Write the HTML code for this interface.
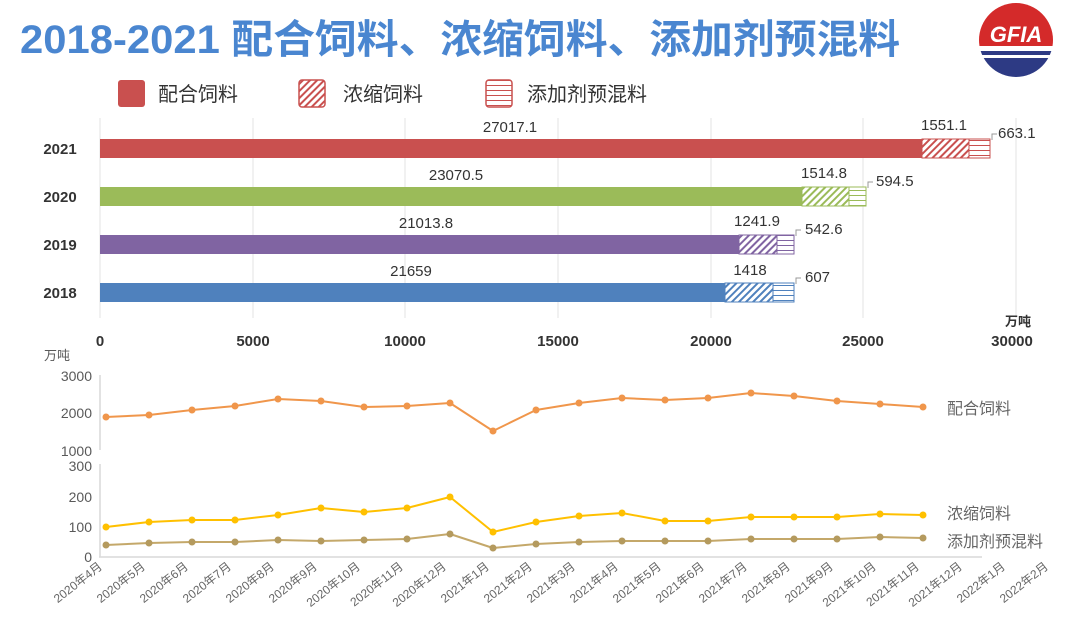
<!DOCTYPE html>
<html><head><meta charset="utf-8"><style>
body{margin:0;background:#fff;}
svg{display:block;font-family:"Liberation Sans","Noto Sans CJK SC",sans-serif;}
</style></head><body>
<svg width="1080" height="622" viewBox="0 0 1080 622" xmlns="http://www.w3.org/2000/svg">
<defs>
<pattern id="dr" width="5" height="5" patternUnits="userSpaceOnUse" patternTransform="rotate(45)"><rect width="5" height="5" fill="#fff"/><rect width="2" height="5" fill="#c9504f"/></pattern>
<pattern id="dg" width="5" height="5" patternUnits="userSpaceOnUse" patternTransform="rotate(45)"><rect width="5" height="5" fill="#fff"/><rect width="2" height="5" fill="#9bbb59"/></pattern>
<pattern id="dp" width="5" height="5" patternUnits="userSpaceOnUse" patternTransform="rotate(45)"><rect width="5" height="5" fill="#fff"/><rect width="2" height="5" fill="#8064a2"/></pattern>
<pattern id="db" width="5" height="5" patternUnits="userSpaceOnUse" patternTransform="rotate(45)"><rect width="5" height="5" fill="#fff"/><rect width="2" height="5" fill="#4f81bd"/></pattern>
<pattern id="hr" width="5" height="5" patternUnits="userSpaceOnUse"><rect width="5" height="5" fill="#fff"/><rect width="5" height="1" fill="#c9504f"/></pattern>
<pattern id="hg" width="5" height="5" patternUnits="userSpaceOnUse"><rect width="5" height="5" fill="#fff"/><rect width="5" height="1" fill="#9bbb59"/></pattern>
<pattern id="hp" width="5" height="5" patternUnits="userSpaceOnUse"><rect width="5" height="5" fill="#fff"/><rect width="5" height="1" fill="#8064a2"/></pattern>
<pattern id="hb" width="5" height="5" patternUnits="userSpaceOnUse"><rect width="5" height="5" fill="#fff"/><rect width="5" height="1" fill="#4f81bd"/></pattern>
<clipPath id="top"><rect x="970" y="0" width="100" height="46"/></clipPath>
<clipPath id="bot"><rect x="970" y="46" width="100" height="50"/></clipPath>
</defs>

<!-- Title -->
<text x="20" y="53" font-size="40" font-weight="bold" fill="#4a86d0" textLength="880" lengthAdjust="spacingAndGlyphs">2018-2021 配合饲料、浓缩饲料、添加剂预混料</text>

<!-- Logo -->
<circle cx="1016" cy="40" r="37" fill="#d42a2a" clip-path="url(#top)"/>
<circle cx="1016" cy="40" r="37" fill="#2d3a84" clip-path="url(#bot)"/>
<rect x="976" y="46" width="82" height="5" fill="#fff"/>
<rect x="976" y="55" width="82" height="3" fill="#fff"/>
<text x="1016" y="42" font-size="22" font-weight="bold" fill="#fff" text-anchor="middle" font-style="italic">GFIA</text>

<!-- Legend -->
<rect x="118" y="80" width="27" height="27" rx="3" fill="#c9504f"/>
<text x="158" y="101" font-size="20" fill="#333">配合饲料</text>
<rect x="299" y="80" width="26" height="27" rx="3" fill="url(#dr)" stroke="#c9504f" stroke-width="1.5"/>
<text x="343" y="101" font-size="20" fill="#333">浓缩饲料</text>
<rect x="486" y="80" width="26" height="27" rx="3" fill="url(#hr)" stroke="#c9504f" stroke-width="1.5"/>
<text x="527" y="101" font-size="20" fill="#333">添加剂预混料</text>

<!-- grid -->
<g stroke="#e3e3e3" stroke-width="1">
<line x1="100" y1="118" x2="100" y2="318"/>
<line x1="253" y1="118" x2="253" y2="318"/>
<line x1="405" y1="118" x2="405" y2="318"/>
<line x1="558" y1="118" x2="558" y2="318"/>
<line x1="711" y1="118" x2="711" y2="318"/>
<line x1="863" y1="118" x2="863" y2="318"/>
<line x1="1016" y1="118" x2="1016" y2="318"/>
</g>

<!-- Bars -->
<g font-size="15" fill="#333" font-weight="bold">
<text x="60" y="154" text-anchor="middle">2021</text>
<text x="60" y="202" text-anchor="middle">2020</text>
<text x="60" y="250" text-anchor="middle">2019</text>
<text x="60" y="298" text-anchor="middle">2018</text>
</g>
<rect x="100" y="139" width="822" height="19" fill="#c9504f"/>
<rect x="922" y="139" width="47" height="19" fill="url(#dr)" stroke="#c9504f"/>
<rect x="969" y="139" width="21" height="19" fill="url(#hr)" stroke="#c9504f"/>
<rect x="100" y="187" width="702" height="19" fill="#9bbb59"/>
<rect x="802" y="187" width="47" height="19" fill="url(#dg)" stroke="#9bbb59"/>
<rect x="849" y="187" width="17" height="19" fill="url(#hg)" stroke="#9bbb59"/>
<rect x="100" y="235" width="639" height="19" fill="#8064a2"/>
<rect x="739" y="235" width="38" height="19" fill="url(#dp)" stroke="#8064a2"/>
<rect x="777" y="235" width="17" height="19" fill="url(#hp)" stroke="#8064a2"/>
<rect x="100" y="283" width="625" height="19" fill="#4f81bd"/>
<rect x="725" y="283" width="48" height="19" fill="url(#db)" stroke="#4f81bd"/>
<rect x="773" y="283" width="21" height="19" fill="url(#hb)" stroke="#4f81bd"/>

<g font-size="15" fill="#333">
<text x="510" y="132" text-anchor="middle">27017.1</text>
<text x="456" y="180" text-anchor="middle">23070.5</text>
<text x="426" y="228" text-anchor="middle">21013.8</text>
<text x="411" y="276" text-anchor="middle">21659</text>
<text x="944" y="130" text-anchor="middle">1551.1</text>
<text x="824" y="178" text-anchor="middle">1514.8</text>
<text x="757" y="226" text-anchor="middle">1241.9</text>
<text x="750" y="275" text-anchor="middle">1418</text>
<text x="998" y="138">663.1</text>
<text x="876" y="186">594.5</text>
<text x="805" y="234">542.6</text>
<text x="805" y="282">607</text>
</g>
<g stroke="#999" fill="none" stroke-width="1">
<path d="M992 140 v-6 h5"/><path d="M868 188 v-6 h5"/><path d="M796 236 v-6 h5"/><path d="M796 284 v-6 h5"/>
</g>

<g font-size="15" fill="#333" font-weight="bold" text-anchor="middle">
<text x="100" y="346">0</text><text x="253" y="346">5000</text><text x="405" y="346">10000</text>
<text x="558" y="346">15000</text><text x="711" y="346">20000</text><text x="863" y="346">25000</text>
<text x="1012" y="346">30000</text>
<text x="1018" y="326" font-size="13">万吨</text>
</g>

<!-- Line chart -->
<g stroke="#d9d9d9" stroke-width="1.5">
<line x1="100" y1="375" x2="100" y2="450"/>
<line x1="100" y1="464" x2="100" y2="557"/>
<line x1="99" y1="557" x2="982" y2="557"/>
</g>
<g font-size="14" fill="#595959" text-anchor="end">
<text x="70" y="360" font-size="13">万吨</text>
<text x="92" y="381">3000</text><text x="92" y="418">2000</text><text x="92" y="456">1000</text>
<text x="92" y="471">300</text><text x="92" y="502">200</text><text x="92" y="532">100</text><text x="92" y="562">0</text>
</g>

<g fill="none" stroke-width="2" stroke-linejoin="round">
<polyline stroke="#f0964b" points="106,417 149,415 192,410 235,406 278,399 321,401 364,407 407,406 450,403 493,431 536,410 579,403 622,398 665,400 708,398 751,393 794,396 837,401 880,404 923,407"/>
<polyline stroke="#ffc000" points="106,527 149,522 192,520 235,520 278,515 321,508 364,512 407,508 450,497 493,532 536,522 579,516 622,513 665,521 708,521 751,517 794,517 837,517 880,514 923,515"/>
<polyline stroke="#c4a86a" points="106,545 149,543 192,542 235,542 278,540 321,541 364,540 407,539 450,534 493,548 536,544 579,542 622,541 665,541 708,541 751,539 794,539 837,539 880,537 923,538"/>
</g>
<g fill="#f0964b">
<circle cx="106" cy="417" r="3.5"/><circle cx="149" cy="415" r="3.5"/><circle cx="192" cy="410" r="3.5"/><circle cx="235" cy="406" r="3.5"/><circle cx="278" cy="399" r="3.5"/><circle cx="321" cy="401" r="3.5"/><circle cx="364" cy="407" r="3.5"/><circle cx="407" cy="406" r="3.5"/><circle cx="450" cy="403" r="3.5"/><circle cx="493" cy="431" r="3.5"/><circle cx="536" cy="410" r="3.5"/><circle cx="579" cy="403" r="3.5"/><circle cx="622" cy="398" r="3.5"/><circle cx="665" cy="400" r="3.5"/><circle cx="708" cy="398" r="3.5"/><circle cx="751" cy="393" r="3.5"/><circle cx="794" cy="396" r="3.5"/><circle cx="837" cy="401" r="3.5"/><circle cx="880" cy="404" r="3.5"/><circle cx="923" cy="407" r="3.5"/>
</g>
<g fill="#ffc000">
<circle cx="106" cy="527" r="3.5"/><circle cx="149" cy="522" r="3.5"/><circle cx="192" cy="520" r="3.5"/><circle cx="235" cy="520" r="3.5"/><circle cx="278" cy="515" r="3.5"/><circle cx="321" cy="508" r="3.5"/><circle cx="364" cy="512" r="3.5"/><circle cx="407" cy="508" r="3.5"/><circle cx="450" cy="497" r="3.5"/><circle cx="493" cy="532" r="3.5"/><circle cx="536" cy="522" r="3.5"/><circle cx="579" cy="516" r="3.5"/><circle cx="622" cy="513" r="3.5"/><circle cx="665" cy="521" r="3.5"/><circle cx="708" cy="521" r="3.5"/><circle cx="751" cy="517" r="3.5"/><circle cx="794" cy="517" r="3.5"/><circle cx="837" cy="517" r="3.5"/><circle cx="880" cy="514" r="3.5"/><circle cx="923" cy="515" r="3.5"/>
</g>
<g fill="#b49a5e">
<circle cx="106" cy="545" r="3.5"/><circle cx="149" cy="543" r="3.5"/><circle cx="192" cy="542" r="3.5"/><circle cx="235" cy="542" r="3.5"/><circle cx="278" cy="540" r="3.5"/><circle cx="321" cy="541" r="3.5"/><circle cx="364" cy="540" r="3.5"/><circle cx="407" cy="539" r="3.5"/><circle cx="450" cy="534" r="3.5"/><circle cx="493" cy="548" r="3.5"/><circle cx="536" cy="544" r="3.5"/><circle cx="579" cy="542" r="3.5"/><circle cx="622" cy="541" r="3.5"/><circle cx="665" cy="541" r="3.5"/><circle cx="708" cy="541" r="3.5"/><circle cx="751" cy="539" r="3.5"/><circle cx="794" cy="539" r="3.5"/><circle cx="837" cy="539" r="3.5"/><circle cx="880" cy="537" r="3.5"/><circle cx="923" cy="538" r="3.5"/>
</g>
<g font-size="16" fill="#666">
<text x="947" y="414">配合饲料</text>
<text x="947" y="519">浓缩饲料</text>
<text x="947" y="547">添加剂预混料</text>
</g>

<g font-size="12" fill="#666" text-anchor="end">
<text transform="translate(103,568) rotate(-38)">2020年4月</text>
<text transform="translate(146,568) rotate(-38)">2020年5月</text>
<text transform="translate(189,568) rotate(-38)">2020年6月</text>
<text transform="translate(232,568) rotate(-38)">2020年7月</text>
<text transform="translate(275,568) rotate(-38)">2020年8月</text>
<text transform="translate(318,568) rotate(-38)">2020年9月</text>
<text transform="translate(361,568) rotate(-38)">2020年10月</text>
<text transform="translate(404,568) rotate(-38)">2020年11月</text>
<text transform="translate(447,568) rotate(-38)">2020年12月</text>
<text transform="translate(490,568) rotate(-38)">2021年1月</text>
<text transform="translate(533,568) rotate(-38)">2021年2月</text>
<text transform="translate(576,568) rotate(-38)">2021年3月</text>
<text transform="translate(619,568) rotate(-38)">2021年4月</text>
<text transform="translate(662,568) rotate(-38)">2021年5月</text>
<text transform="translate(705,568) rotate(-38)">2021年6月</text>
<text transform="translate(748,568) rotate(-38)">2021年7月</text>
<text transform="translate(791,568) rotate(-38)">2021年8月</text>
<text transform="translate(834,568) rotate(-38)">2021年9月</text>
<text transform="translate(877,568) rotate(-38)">2021年10月</text>
<text transform="translate(920,568) rotate(-38)">2021年11月</text>
<text transform="translate(963,568) rotate(-38)">2021年12月</text>
<text transform="translate(1006,568) rotate(-38)">2022年1月</text>
<text transform="translate(1049,568) rotate(-38)">2022年2月</text>
</g>
</svg>
</body></html>
